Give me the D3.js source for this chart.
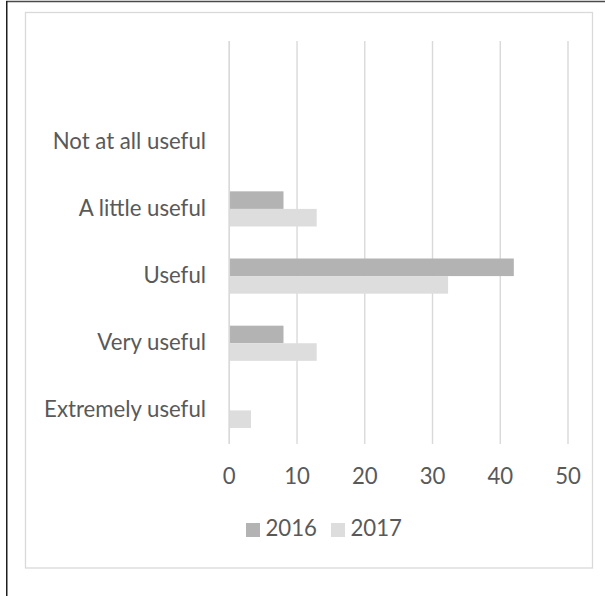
<!DOCTYPE html>
<html>
<head>
<meta charset="utf-8">
<script src="https://cdn.jsdelivr.net/npm/d3@7"></script>
<style>
  html, body { margin: 0; padding: 0; background: #fff; }
  svg { display: block; }
</style>
</head>
<body>
<svg id="chart" width="605" height="596"></svg>
<script>
const categories = ["", "Not at all useful", "A little useful", "Useful", "Very useful", "Extremely useful"];
const seriesNames = ["2016", "2017"];
const values2016 = [null, 0, 8, 42, 8, 0];
const values2017 = [null, 0, 12.9, 32.3, 12.9, 3.2];
const xTicks = [0, 10, 20, 30, 40, 50];
const colors = ["#b3b3b3", "#dddddd"];

const FONT = "Lato, 'Open Sans', sans-serif";
const FS = 22.2;
const TXT = "#595959";

const svg = d3.select("#chart");

// outer frame (top + left dark edges)
svg.append("line").attr("x1", 6).attr("x2", 605).attr("y1", 1.5).attr("y2", 1.5)
  .attr("stroke", "#4a4a4a").attr("stroke-width", 1.5);
svg.append("line").attr("x1", 6.75).attr("x2", 6.75).attr("y1", 1).attr("y2", 596)
  .attr("stroke", "#1e1e1e").attr("stroke-width", 1.5);

// chart area border
svg.append("rect").attr("x", 25.5).attr("y", 12.5).attr("width", 567).attr("height", 555.5)
  .attr("fill", "#fff").attr("stroke", "#d9d9d9").attr("stroke-width", 1.3);

const x = d3.scaleLinear().domain([0, 50]).range([229.3, 568]);
const y = d3.scaleBand().domain(categories).range([41, 444]).padding(0);
const ySub = d3.scaleBand().domain(seriesNames).range([0, y.bandwidth()]).paddingInner(0).paddingOuter(0.91);

// gridlines
svg.append("g").selectAll("line").data(xTicks).join("line")
  .attr("x1", d => x(d)).attr("x2", d => x(d))
  .attr("y1", 41).attr("y2", 444)
  .attr("stroke", "#d9d9d9").attr("stroke-width", 1.4);

// bars
const rows = categories.map((c, i) => ({ c, vals: [values2016[i], values2017[i]] }));
const gBars = svg.append("g");
rows.forEach(r => {
  r.vals.forEach((v, j) => {
    if (v == null || v === 0) return;
    gBars.append("rect")
      .attr("x", x(0) + 0.7)
      .attr("y", y(r.c) + ySub(seriesNames[j]))
      .attr("width", x(v) - x(0) - 0.7)
      .attr("height", ySub.bandwidth())
      .attr("fill", colors[j]);
  });
});

// vertical axis line
svg.append("line").attr("x1", x(0)).attr("x2", x(0)).attr("y1", 41).attr("y2", 444)
  .attr("stroke", "#d9d9d9").attr("stroke-width", 1.5);

// category labels
svg.append("g").selectAll("text").data(categories).join("text")
  .attr("x", 206)
  .attr("y", d => y(d) + y.bandwidth() / 2 + 7)
  .attr("text-anchor", "end")
  .attr("font-family", FONT).attr("font-size", FS).attr("fill", TXT)
  .text(d => d);

// x tick labels
svg.append("g").selectAll("text").data(xTicks).join("text")
  .attr("x", d => x(d))
  .attr("y", 483.5)
  .attr("text-anchor", "middle")
  .attr("font-family", FONT).attr("font-size", FS).attr("fill", TXT)
  .text(d => d);

// legend
const legendX = [246, 331];
const lg = svg.append("g");
seriesNames.forEach((s, i) => {
  lg.append("rect").attr("x", legendX[i]).attr("y", 523).attr("width", 14).attr("height", 14)
    .attr("fill", colors[i]);
  lg.append("text").attr("x", legendX[i] + 19.5).attr("y", 536)
    .attr("font-family", FONT).attr("font-size", FS).attr("fill", TXT)
    .text(s);
});
</script>
</body>
</html>
